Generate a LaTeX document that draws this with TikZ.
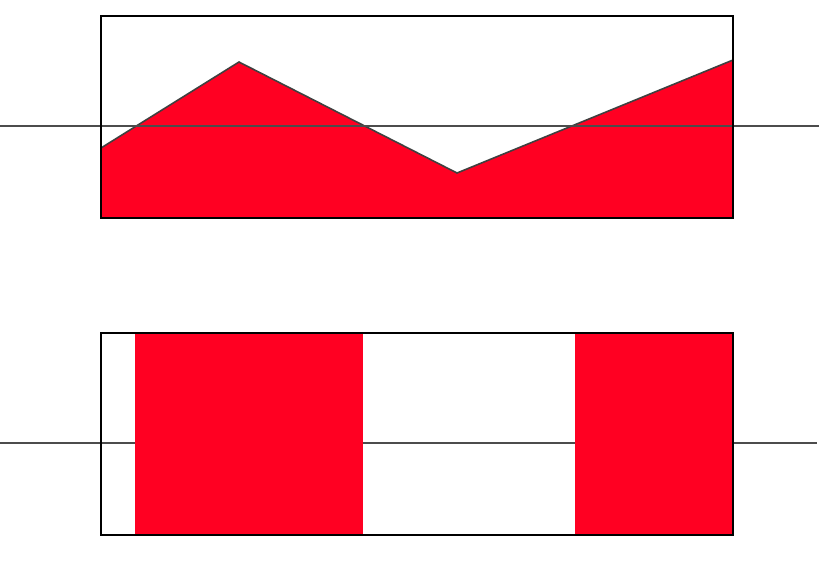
\documentclass[tikz,border=0pt]{standalone}
\usepackage{tikz}

\definecolor{signalred}{RGB}{255,0,34}

\begin{document}
\begin{tikzpicture}[
    x=0.02cm, y=-0.02cm,
    frame/.style={draw=black, line width=1.3pt},
    area/.style={fill=signalred},
    edge/.style={draw=black!75, line width=0.9pt, line join=miter},
    level/.style={draw=black!70, line width=1pt}
]
\useasboundingbox (0,0) rectangle (820,561);

% top: analog signal
\fill[area] (101,148) -- (239,62) -- (457,173) -- (733,60) -- (733,218) -- (101,218) -- cycle;
\draw[edge] (101,148) -- (239,62) -- (457,173) -- (733,60);
\draw[level] (0,126) -- (819,126);
\draw[frame] (101,16) rectangle (733,218);

% bottom: sampled signal
\draw[level] (0,443) -- (135,443);
\draw[level] (363,443) -- (575,443);
\draw[level] (733,443) -- (817,443);
\fill[area] (135,333) rectangle (363,535);
\fill[area] (575,333) rectangle (733,535);
\draw[frame] (101,333) rectangle (733,535);
\end{tikzpicture}
\end{document}
